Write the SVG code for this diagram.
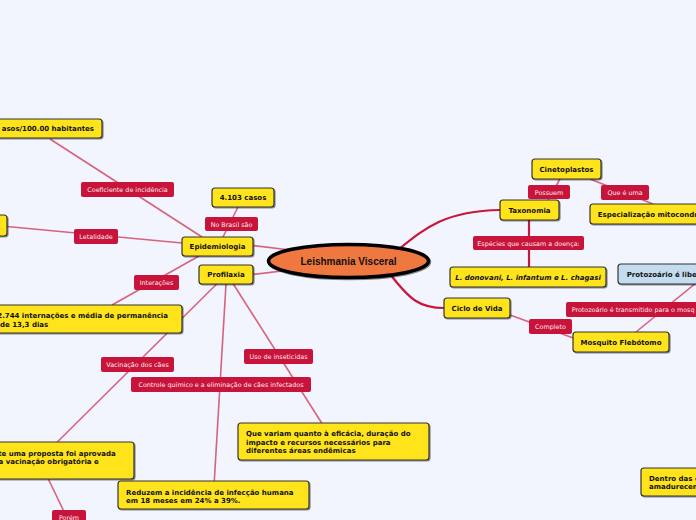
<svg xmlns="http://www.w3.org/2000/svg" width="696" height="520" viewBox="0 0 696 520">
<defs>
<filter id="ds" x="-10%" y="-20%" width="130%" height="160%">
<feDropShadow dx="1" dy="1" stdDeviation="0.6" flood-color="#000" flood-opacity="0.45"/>
</filter>
<style>
.bg{fill:#f2f5fd}
.n{fill:#ffe41a;stroke:#333;stroke-width:1.2;filter:url(#ds)}
.nb{fill:#c3dcf0;stroke:#333;stroke-width:1.2;filter:url(#ds)}
.t{font-family:"DejaVu Sans",Verdana,sans-serif;font-weight:bold;font-size:7px;fill:#111}
.l{fill:#c8143a}
.lt{font-family:"DejaVu Sans",Verdana,sans-serif;font-size:6.4px;fill:#fde9ed}
.c1{stroke:#d65a77;stroke-width:1.6;fill:none;opacity:0.95}
.c2{stroke:#c8173c;stroke-width:2.2;fill:none}
.mid{text-anchor:middle}
.end{text-anchor:end}
</style>
</defs>
<rect class="bg" x="0" y="0" width="696" height="520"/>

<g id="connectors">
<line class="c1" x1="50" y1="139" x2="202" y2="237"/>
<line class="c1" x1="223" y1="237" x2="238" y2="207"/>
<line class="c1" x1="7" y1="226.5" x2="182" y2="243"/>
<line class="c1" x1="199" y1="256" x2="112" y2="305"/>
<line class="c1" x1="253" y1="245.5" x2="290" y2="250"/>
<line class="c1" x1="253" y1="274.5" x2="290" y2="270"/>
<line class="c1" x1="216.7" y1="284" x2="57.3" y2="442"/>
<line class="c1" x1="226" y1="284" x2="214.3" y2="481"/>
<line class="c1" x1="233.3" y1="284" x2="321.7" y2="423"/>
<line class="c1" x1="48.3" y1="479" x2="63.3" y2="510"/>
<path class="c2" d="M398 250 C425 228 445 211 500 210"/>
<path class="c2" d="M390 274 C410 300 420 308 444 308"/>
<line class="c2" x1="529" y1="220" x2="529" y2="267"/>
<line class="c1" x1="560" y1="179" x2="548" y2="200"/>
<line class="c1" x1="590" y1="179" x2="653" y2="204"/>
<line class="c1" x1="510" y1="315" x2="576" y2="339"/>
<line class="c1" x1="636" y1="332" x2="702" y2="278"/>
</g>

<g id="labels">
<g id="lb-coef"><rect class="l" x="81" y="182" width="93" height="15" rx="2"/><text class="lt mid" x="127.5" y="192">Coeficiente de incidência</text></g>
<g id="lb-brasil"><rect class="l" x="205" y="217" width="53" height="14" rx="2"/><text class="lt mid" x="231.5" y="226.5">No Brasil são</text></g>
<g id="lb-letal"><rect class="l" x="74" y="229" width="44" height="15" rx="2"/><text class="lt mid" x="96" y="239">Letalidade</text></g>
<g id="lb-inter"><rect class="l" x="134" y="275" width="45" height="15" rx="2"/><text class="lt mid" x="156.5" y="285">Interações</text></g>
<g id="lb-vacin"><rect class="l" x="101" y="357" width="73" height="15" rx="2"/><text class="lt mid" x="137.5" y="367">Vacinação dos cães</text></g>
<g id="lb-contr"><rect class="l" x="131" y="377" width="180" height="15" rx="2"/><text class="lt mid" x="221" y="387">Controle químico e a eliminação de cães infectados</text></g>
<g id="lb-inset"><rect class="l" x="244" y="349" width="69" height="15" rx="2"/><text class="lt mid" x="278.5" y="359">Uso de inseticidas</text></g>
<g id="lb-possuem"><rect class="l" x="528" y="185" width="42" height="14" rx="2"/><text class="lt mid" x="549" y="194.5">Possuem</text></g>
<g id="lb-queeuma"><rect class="l" x="601" y="185" width="48" height="15" rx="2"/><text class="lt mid" x="625" y="195">Que é uma</text></g>
<g id="lb-especies"><rect class="l" x="473" y="236" width="111" height="14" rx="2"/><text class="lt mid" x="528.5" y="245.5">Espécies que causam a doença:</text></g>
<g id="lb-completo"><rect class="l" x="529" y="319" width="43" height="15" rx="2"/><text class="lt mid" x="550.5" y="329">Completo</text></g>
<g id="lb-transm"><rect class="l" x="566" y="302" width="140" height="15" rx="2"/><text class="lt" x="571.7" y="312">Protozoário é transmitido para o mosq</text></g>
<g id="lb-porem"><rect class="l" x="52" y="510" width="34" height="15" rx="2"/><text class="lt mid" x="69" y="519.5">Porém</text></g>
</g>

<g id="n-center">
<ellipse cx="348.5" cy="261" rx="80" ry="16.5" fill="#ef7840" stroke="#000" stroke-width="3.5" filter="url(#ds)"/>
<text x="348.5" y="264.5" class="mid" font-family="'Liberation Sans',Arial,sans-serif" font-weight="bold" font-size="10" fill="#111">Leishmania Visceral</text>
</g>
<g id="n-epid"><rect class="n" x="182" y="237" width="71" height="19" rx="3"/><text class="t mid" x="217.5" y="249">Epidemiologia</text></g>
<g id="n-prof"><rect class="n" x="199" y="265" width="54" height="19" rx="3"/><text class="t mid" x="226" y="277">Profilaxia</text></g>
<g id="n-4103"><rect class="n" x="212" y="188" width="62" height="19" rx="3"/><text class="t mid" x="243" y="200">4.103 casos</text></g>
<g id="n-coef"><rect class="n" x="-20" y="119" width="122" height="19" rx="3"/><text class="t end" x="94" y="131">asos/100.00 habitantes</text></g>
<g id="n-letal"><rect class="n" x="-20" y="215" width="27" height="21" rx="3"/></g>
<g id="n-intern"><rect class="n" x="-20" y="305" width="202" height="28" rx="3"/><text class="t end" x="168" y="318">2.744 internações e média de permanência</text><text class="t" x="0" y="326.5">de 13,3 dias</text></g>
<g id="n-vacin"><rect class="n" x="-20" y="442" width="154" height="37" rx="3"/><text class="t end" x="115.7" y="455.5">te uma proposta foi aprovada</text><text class="t end" x="98.7" y="463.5">a vacinação obrigatória e</text></g>
<g id="n-reduz"><rect class="n" x="118" y="481" width="191" height="28" rx="3"/><text class="t" x="126" y="494.5">Reduzem a incidência de infecção humana</text><text class="t" x="126" y="503">em 18 meses em 24% a 39%.</text></g>
<g id="n-quev"><rect class="n" x="238" y="423" width="191" height="37" rx="3"/><text class="t" x="246" y="436">Que variam quanto à eficácia, duração do</text><text class="t" x="246" y="444.8">impacto e recursos necessários para</text><text class="t" x="246" y="453.3">diferentes áreas endêmicas</text></g>
<g id="n-cineto"><rect class="n" x="532" y="159" width="69" height="20" rx="3"/><text class="t mid" x="566.5" y="171.5">Cinetoplastos</text></g>
<g id="n-taxon"><rect class="n" x="500" y="200" width="59" height="20" rx="3"/><text class="t mid" x="529.5" y="212.5">Taxonomia</text></g>
<g id="n-espec"><rect class="n" x="590" y="204" width="130" height="20" rx="3"/><text class="t" x="597.7" y="216.5">Especialização mitocondr</text></g>
<g id="n-ldon"><rect class="n" x="450" y="267" width="156" height="20" rx="3"/><text class="t mid" x="528" y="279.5" font-style="italic">L. donovani, L. infantum e L. chagasi</text></g>
<g id="n-ciclo"><rect class="n" x="444" y="298" width="66" height="20" rx="3"/><text class="t mid" x="477" y="310.5">Ciclo de Vida</text></g>
<g id="n-mosq"><rect class="n" x="573" y="332" width="96" height="20" rx="3"/><text class="t mid" x="621" y="344.5">Mosquito Flebótomo</text></g>
<g id="n-proto"><rect class="nb" x="618" y="264" width="100" height="20" rx="3"/><text class="t" x="626.7" y="276.5">Protozoário é libe</text></g>
<g id="n-dentro"><rect class="n" x="641" y="468" width="80" height="28" rx="3"/><text class="t" x="649" y="480.5">Dentro das c</text><text class="t" x="649" y="489">amadurecem</text></g>
</svg>
